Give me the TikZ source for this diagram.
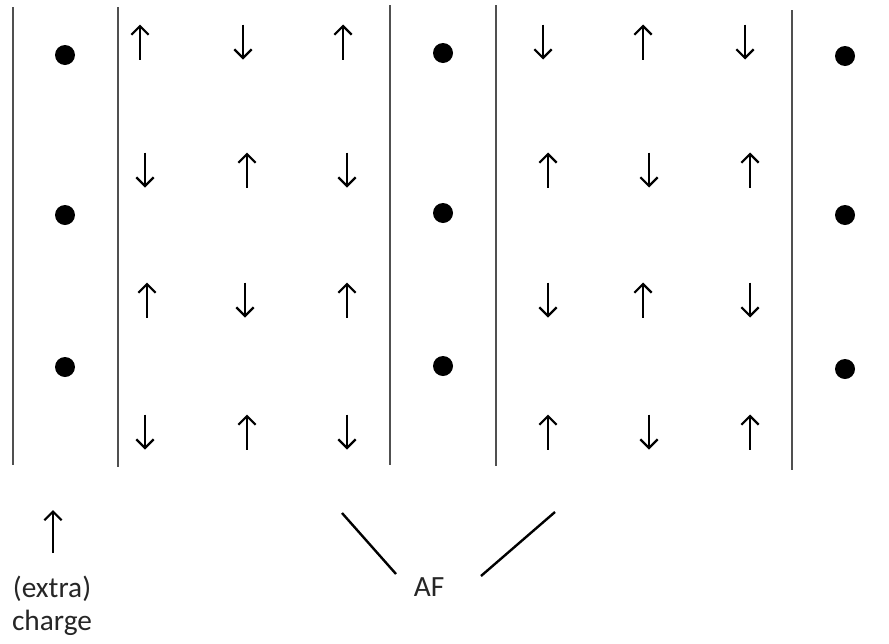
\documentclass[tikz,border=0pt]{standalone}
\usepackage{fontspec}
\setmainfont{Carlito}
\usetikzlibrary{arrows.meta}
\definecolor{wallgray}{RGB}{80,80,80}
\tikzset{
  wall/.style={draw=wallgray, line width=1.9pt},
  spin/.style={line width=1.7pt, -{Straight Barb[length=6.5pt,width=13pt,line width=1.7pt]}},
  site/.style={fill=black},
  lbl/.style={font=\fontsize{22}{25}\selectfont, text=black!85, inner sep=1pt},
  afline/.style={line width=1.8pt},
}
\begin{document}
\begin{tikzpicture}[x=0.75pt,y=-0.75pt]
\useasboundingbox (0,0) rectangle (889,643);
% walls
\draw[wall] (13,7) -- (13,465);
\draw[wall] (118,7) -- (118,467);
\draw[wall] (390,5) -- (390,465);
\draw[wall] (496,5) -- (496,466);
\draw[wall] (792,10) -- (792,470);
% charge sites
\foreach \x/\ys in {65/{55,215,367}, 443/{53,213,366}, 845/{56,215,369}}{
  \foreach \y in \ys { \fill[site] (\x,\y) circle[radius=10]; }
}
% spins: x, y-center, direction (1 = up, -1 = down)
\foreach \x/\y/\d in {
  140/42/1, 243/42/-1, 343/42/1,
  145/170/-1, 247/170/1, 347/170/-1,
  147/300/1, 245/300/-1, 347/300/1,
  145/432/-1, 247/432/1, 347/432/-1,
  543/42/-1, 643/42/1, 745/42/-1,
  548/170/1, 649/170/-1, 750/170/1,
  548/300/-1, 643/300/1, 750/300/-1,
  548/432/1, 649/432/-1, 750/432/1}{
  \draw[spin] (\x,{\y+17.5*\d}) -- (\x,{\y-17.5*\d});
}
% extra charge
\node[lbl, align=center] (charge) at (52,606) {(extra)\\charge};
\coordinate (chargebase) at (53,553);
\coordinate (chargetip) at (53,510);
\draw[spin] (chargebase) -- (chargetip);
% AF label
\node[lbl] (AF) at (429,587) {AF};
\coordinate (afL) at (342,513);
\coordinate (afLe) at (396,574);
\coordinate (afR) at (555,512);
\coordinate (afRe) at (481,576);
\draw[afline] (afL) -- (afLe);
\draw[afline] (afR) -- (afRe);
\end{tikzpicture}
\end{document}
